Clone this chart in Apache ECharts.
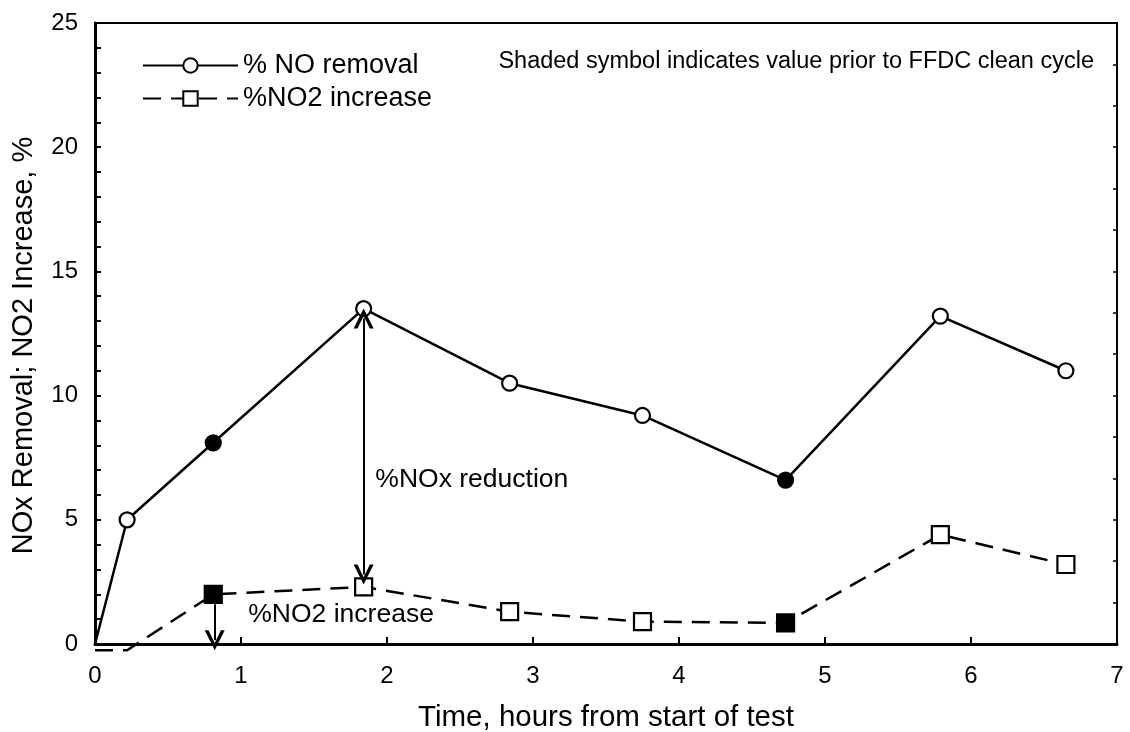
<!DOCTYPE html>
<html>
<head>
<meta charset="utf-8">
<script src="https://cdn.jsdelivr.net/npm/echarts@6/dist/echarts.min.js"></script>
<style>
  html, body { margin: 0; padding: 0; background: #fff; overflow: hidden; }
  #chart { width: 1130px; height: 732px; }
</style>
</head>
<body>
<div id="chart"></div>
<script>
// Test time (hours) for each sample
const times = [0, 0.22, 0.81, 1.84, 2.84, 3.75, 4.73, 5.79, 6.65];
// % NO removal at each sample
const noRemoval = [0, 5.0, 8.1, 13.5, 10.5, 9.2, 6.6, 13.2, 11.0];
// % NO2 increase at each sample
const no2Increase = [-0.25, -0.25, 2.0, 2.3, 1.3, 0.9, 0.85, 4.4, 3.2];
// Samples taken just before an FFDC clean cycle (drawn with solid symbols)
const shaded = [false, false, true, false, false, false, true, false, false];
// Samples drawn without a symbol
const noMarkerNO = [0];
const noMarkerNO2 = [0, 1];

const xTicks = { min: 0, max: 7, interval: 1 };
const yTicks = { min: 0, max: 25, interval: 5 };

// Annotation arrows (time, value) and their labels
const reductionArrow = [[1.84, 13.1], [1.84, 2.8]];
const increaseArrow = [[0.82, 1.6], [0.82, 0.15]];
const reductionLabel = { text: '%NOx reduction', at: [1.92, 6.6] };
const increaseLabel = { text: '%NO2 increase', at: [1.05, 1.17] };
const noteText = 'Shaded symbol indicates value prior to FFDC clean cycle';

const FONT = '"Liberation Sans", Arial, Helvetica, sans-serif';
// open "V" arrow head, tip at the top
const chevron = 'path://M10,0 L20,17 L16.2,17 L10,6.2 L3.8,17 L0,17 Z';

function buildPoints(vals, noMarker) {
  return vals.map((v, i) => {
    const item = { value: [times[i], v] };
    if (noMarker.indexOf(i) >= 0) item.symbol = 'none';
    if (shaded[i]) item.itemStyle = { color: '#000' };
    return item;
  });
}

const chart = echarts.init(document.getElementById('chart'), null, { renderer: 'canvas' });

chart.setOption({
  animation: false,
  backgroundColor: '#fff',
  textStyle: { fontFamily: FONT, color: '#000' },
  title: {
    text: noteText,
    right: 31,
    top: 45,
    textStyle: { fontFamily: FONT, fontSize: 23.5, fontWeight: 'normal', color: '#000' }
  },
  legend: {
    orient: 'vertical',
    left: 142,
    top: 52,
    padding: 0,
    itemWidth: 95,
    itemHeight: 18,
    itemGap: 6,
    textStyle: { fontFamily: FONT, fontSize: 27, color: '#000', padding: [0, 0, 0, 0] },
    data: ['% NO removal', '%NO2 increase']
  },
  grid: {
    left: 95, right: 13, top: 23, bottom: 88,
    outerBoundsMode: 'none',
    containLabel: false,
    show: true, borderColor: '#000', borderWidth: 2, backgroundColor: 'transparent'
  },
  xAxis: {
    type: 'value',
    min: xTicks.min, max: xTicks.max, interval: xTicks.interval,
    name: 'Time, hours from start of test',
    nameLocation: 'middle',
    nameGap: 59,
    nameTextStyle: { fontFamily: FONT, fontSize: 29.5, color: '#000' },
    axisLine: { lineStyle: { color: '#000', width: 3 } },
    axisTick: { inside: true, length: 7, lineStyle: { color: '#000', width: 2 } },
    axisLabel: { fontFamily: FONT, fontSize: 24, color: '#000', margin: 20 },
    splitLine: { show: false }
  },
  yAxis: [{
    type: 'value',
    min: yTicks.min, max: yTicks.max, interval: yTicks.interval,
    name: 'NOx Removal; NO2 Increase, %',
    nameLocation: 'middle',
    nameGap: 57,
    nameTextStyle: { fontFamily: FONT, fontSize: 29, color: '#000', padding: [0, 24, 0, 0] },
    axisLine: { lineStyle: { color: '#000', width: 3 } },
    axisTick: { inside: true, length: 6, lineStyle: { color: '#000', width: 2 } },
    minorTick: { show: true, splitNumber: 5, length: 6, lineStyle: { color: '#000', width: 2 } },
    axisLabel: { fontFamily: FONT, fontSize: 24, color: '#000', margin: 17 },
    splitLine: { show: false }
  }, {
    type: 'value',
    position: 'right',
    min: 0, max: 15, interval: 1,
    axisLine: { show: true, lineStyle: { color: '#000', width: 2 } },
    axisTick: { inside: true, length: 4, lineStyle: { color: '#000', width: 1.5 } },
    axisLabel: { show: false },
    splitLine: { show: false }
  }],
  series: [{
    name: '% NO removal',
    type: 'line',
    data: buildPoints(noRemoval, noMarkerNO),
    symbol: 'circle',
    symbolSize: 15,
    color: '#000',
    lineStyle: { color: '#000', width: 2.5, type: 'solid' },
    itemStyle: { color: '#fff', borderColor: '#000', borderWidth: 2.2 },
    z: 3,
    markLine: {
      silent: true,
      symbol: [chevron, chevron],
      symbolSize: [20, 20],
      label: { show: false },
      lineStyle: { color: '#000', width: 2, type: 'solid' },
      data: [[{ coord: reductionArrow[0] }, { coord: reductionArrow[1] }]]
    },
    markPoint: {
      silent: true,
      symbol: 'circle',
      symbolSize: 0,
      label: {
        show: true, position: 'right', distance: 0,
        fontFamily: FONT, fontSize: 26.5, color: '#000',
        formatter: p => p.name
      },
      data: [{ name: reductionLabel.text, coord: reductionLabel.at }]
    }
  }, {
    name: '%NO2 increase',
    type: 'line',
    clip: false,
    data: buildPoints(no2Increase, noMarkerNO2),
    symbol: 'rect',
    symbolSize: 17,
    color: '#000',
    lineStyle: { color: '#000', width: 2.5, type: [18, 10] },
    itemStyle: { color: '#fff', borderColor: '#000', borderWidth: 2.2 },
    z: 3,
    markLine: {
      silent: true,
      label: { show: false },
      lineStyle: { color: '#000', width: 2, type: 'solid' },
      data: [[
        { coord: increaseArrow[0], symbol: 'none' },
        { coord: increaseArrow[1], symbol: chevron, symbolSize: [20, 20] }
      ]]
    },
    markPoint: {
      silent: true,
      symbol: 'circle',
      symbolSize: 0,
      label: {
        show: true, position: 'right', distance: 0,
        fontFamily: FONT, fontSize: 26.5, color: '#000',
        formatter: p => p.name
      },
      data: [{ name: increaseLabel.text, coord: increaseLabel.at }]
    }
  }]
});
</script>
</body>
</html>
